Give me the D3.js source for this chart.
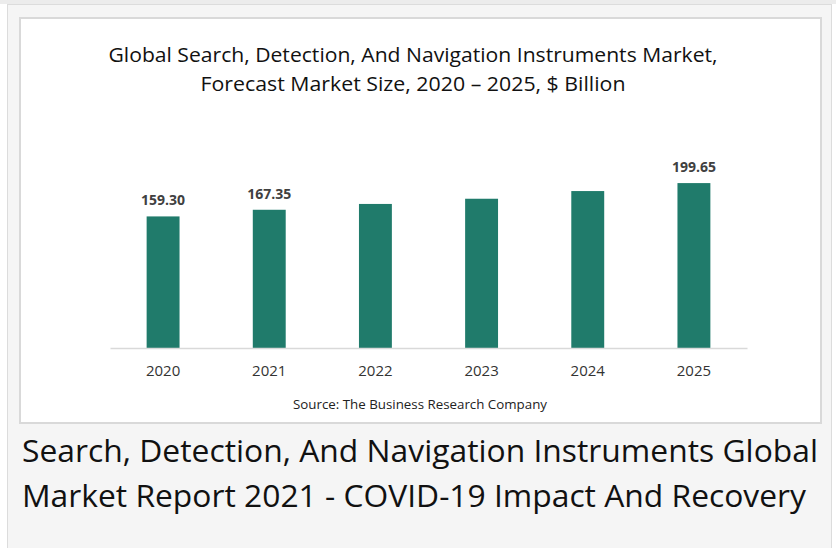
<!DOCTYPE html>
<html>
<head>
<meta charset="utf-8">
<script src="https://cdn.jsdelivr.net/npm/d3@7"></script>
<style>
  body { margin: 0; background: #ffffff; }
  svg { display: block; }
</style>
</head>
<body>
<div id="chart"></div>
<script>
// data
const years = ["2020", "2021", "2022", "2023", "2024", "2025"];
const marketSize = [159.30, 167.35, 174.4, 180.7, 190.0, 199.65];
const labeledYears = ["2020", "2021", "2025"];
const titleLines = [
  "Global Search, Detection, And Navigation Instruments Market,",
  "Forecast Market Size, 2020 \u2013 2025, $ Billion"
];
const sourceText = "Source: The Business Research Company";
const captionLines = [
  "Search, Detection, And Navigation Instruments Global",
  "Market Report 2021 - COVID-19 Impact And Recovery"
];

const width = 836;
const height = 548;

const svg = d3.select('#chart')
  .append('svg')
  .attr('width', width)
  .attr('height', height)
  .attr('viewBox', `0 0 ${width} ${height}`);

// page frame
svg.append('rect').attr('width', width).attr('height', 4).attr('fill', '#ececec');
svg.append('rect')
  .attr('x', 7.5).attr('y', 4.5)
  .attr('width', 824).attr('height', 560)
  .attr('fill', '#f5f5f5')
  .attr('stroke', '#dcdcdc');

// white chart panel
svg.append('rect')
  .attr('x', 20).attr('y', 18)
  .attr('width', 801).attr('height', 405)
  .attr('fill', '#ffffff')
  .attr('stroke', '#d9d9d9')
  .attr('stroke-width', 2);

// title
const titleWidths = [609, 425];
svg.selectAll('text.title')
  .data(titleLines)
  .enter()
  .append('text')
  .attr('class', 'title')
  .attr('x', 413)
  .attr('y', (d, i) => 62 + i * 29)
  .attr('text-anchor', 'middle')
  .attr('font-family', 'Open Sans, sans-serif')
  .attr('font-size', '20px')
  .attr('fill', '#111')
  .attr('textLength', (d, i) => titleWidths[i])
  .attr('lengthAdjust', 'spacingAndGlyphs')
  .text(d => d);

// scales
const x = d3.scaleBand()
  .domain(years)
  .range([110, 747])
  .paddingInner(0.69)
  .paddingOuter(0.345);

const y = d3.scaleLinear()
  .domain([0, 240])
  .range([348, 348 - 240 * 0.826]);

// bars
svg.selectAll('rect.bar')
  .data(years)
  .enter()
  .append('rect')
  .attr('class', 'bar')
  .attr('x', d => x(d))
  .attr('y', (d, i) => y(marketSize[i]))
  .attr('width', x.bandwidth())
  .attr('height', (d, i) => y(0) - y(marketSize[i]))
  .attr('fill', '#207b6b');

// value labels
svg.selectAll('text.value')
  .data(years.filter(d => labeledYears.includes(d)))
  .enter()
  .append('text')
  .attr('class', 'value')
  .attr('x', d => x(d) + x.bandwidth() / 2)
  .attr('y', d => y(marketSize[years.indexOf(d)]) - 11)
  .attr('text-anchor', 'middle')
  .attr('font-family', 'Open Sans, sans-serif')
  .attr('font-weight', 'bold')
  .attr('font-size', '14px')
  .attr('fill', '#404040')
  .text(d => marketSize[years.indexOf(d)].toFixed(2));

// x axis
const xAxis = svg.append('g')
  .attr('transform', `translate(0,${y(0)})`)
  .call(d3.axisBottom(x).tickSize(0).tickSizeOuter(0).tickPadding(17));

xAxis.select('.domain').attr('stroke', '#d9d9d9').attr('stroke-width', 1.5);
xAxis.selectAll('text')
  .attr('font-family', 'Open Sans, sans-serif')
  .attr('font-size', '15px')
  .attr('fill', '#333');

// source note
svg.append('text')
  .attr('x', 420)
  .attr('y', 409)
  .attr('text-anchor', 'middle')
  .attr('font-family', 'Open Sans, sans-serif')
  .attr('font-size', '13px')
  .attr('fill', '#222')
  .attr('textLength', 254)
  .attr('lengthAdjust', 'spacingAndGlyphs')
  .text(sourceText);

// caption under the panel
const captionWidths = [796, 784];
svg.selectAll('text.caption')
  .data(captionLines)
  .enter()
  .append('text')
  .attr('class', 'caption')
  .attr('x', 22)
  .attr('y', (d, i) => 462 + i * 45)
  .attr('font-family', 'Open Sans, sans-serif')
  .attr('font-size', '31px')
  .attr('fill', '#111')
  .attr('textLength', (d, i) => captionWidths[i])
  .attr('lengthAdjust', 'spacingAndGlyphs')
  .text(d => d);
</script>
</body>
</html>
